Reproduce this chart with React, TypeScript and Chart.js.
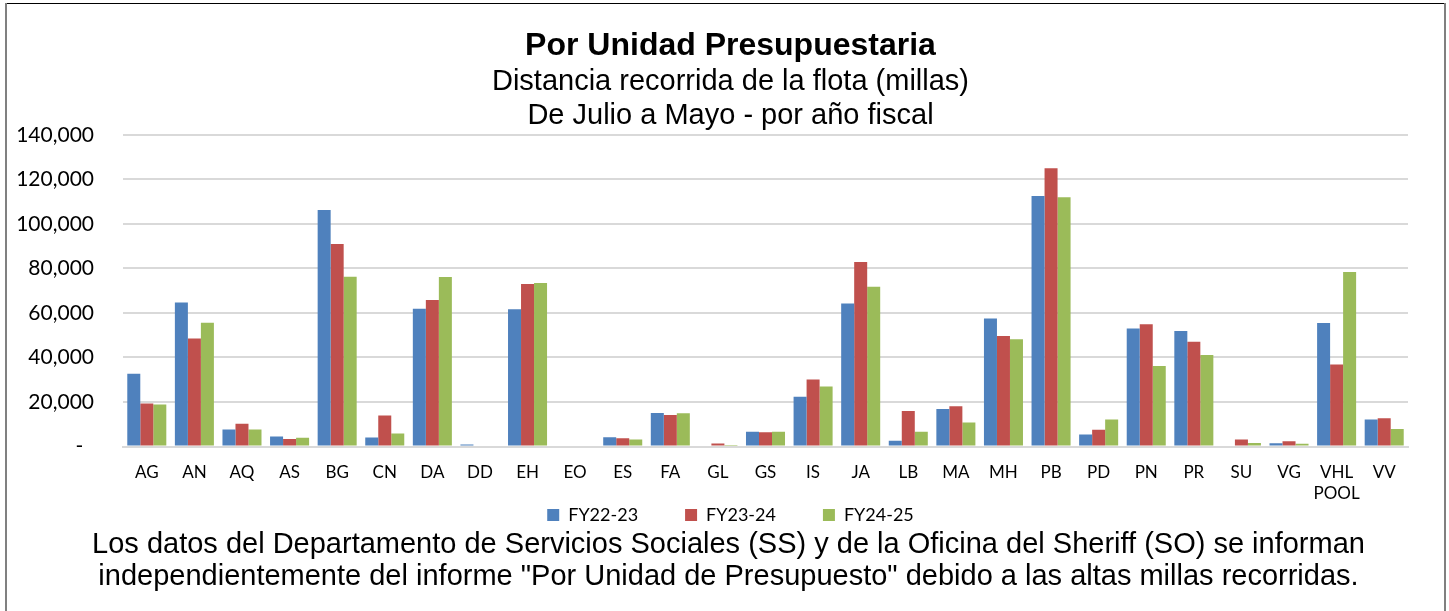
import React, { useEffect, useRef } from "react";
import { Chart, registerables } from "chart.js";

Chart.register(...registerables);

const categories: (string | string[])[] = [
  "AG", "AN", "AQ", "AS", "BG", "CN", "DA", "DD", "EH", "EO", "ES", "FA", "GL", "GS",
  "IS", "JA", "LB", "MA", "MH", "PB", "PD", "PN", "PR", "SU", "VG", ["VHL", "POOL"], "VV",
];

const fy2223 = [
  32700, 64700, 7600, 4500, 106200, 4000, 61900, 900, 61600, 0, 4200, 15000, 0, 6600,
  22400, 64200, 2600, 16800, 57500, 112500, 5400, 53000, 51900, 0, 1500, 55500, 12100,
];
const fy2324 = [
  19300, 48500, 10200, 3400, 91000, 13900, 65800, 500, 73000, 0, 3700, 14200, 1300, 6400,
  30100, 82900, 16000, 18100, 49600, 125000, 7500, 54900, 47000, 3100, 2400, 36800, 12700,
];
const fy2425 = [
  18900, 55600, 7600, 3900, 76200, 5800, 76100, 0, 73400, 0, 3100, 14900, 700, 6600,
  26900, 71800, 6600, 10800, 48200, 111900, 12100, 36200, 41100, 1600, 1200, 78400, 7900,
];

const seriesNames = ["FY22-23", "FY23-24", "FY24-25"];
const seriesColors = ["#4F81BD", "#C0504D", "#9BBB59"];

const titleText = "Por Unidad Presupuestaria";
const subtitleLines = ["Distancia recorrida de la flota (millas)", "De Julio a Mayo - por año fiscal"];
const footerLines = [
  'Los datos del Departamento de Servicios Sociales (SS) y de la Oficina del Sheriff (SO) se informan',
  'independientemente del informe "Por Unidad de Presupuesto" debido a las altas millas recorridas.',
];

const yMax = 140000;
const yStep = 20000;

const LEGEND_CENTER_Y = 515;
const LEGEND_FONT = 18;
const LEGEND_PAD = 47;

const legendMover = {
  id: "legendMover",
  afterLayout(chart: any) {
    const lg = chart.legend;
    if (!lg) return;
    lg.top = LEGEND_CENTER_Y - LEGEND_PAD - LEGEND_FONT / 2;
    lg.bottom = lg.top + 2 * LEGEND_PAD + LEGEND_FONT + 4;
    lg.height = lg.bottom - lg.top;
  },
};

export default function App() {
  const canvasRef = useRef<HTMLCanvasElement | null>(null);

  useEffect(() => {
    if (!canvasRef.current) return;
    const seriesData = [fy2223, fy2324, fy2425];
    const chart = new Chart(canvasRef.current, {
      type: "bar",
      data: {
        labels: categories,
        datasets: seriesNames.map((name, i) => ({
          label: name,
          data: seriesData[i],
          backgroundColor: seriesColors[i],
          borderWidth: 0,
          barPercentage: 1,
          categoryPercentage: 0.82,
          yAxisID: "y",
        })),
      },
      plugins: [legendMover],
      options: {
        animation: false,
        responsive: false,
        maintainAspectRatio: false,
        layout: { padding: { left: 12, right: 0, top: 0, bottom: 62 } },
        plugins: {
          tooltip: { enabled: false },
          title: {
            display: true,
            text: titleText,
            color: "#000",
            font: { family: "'Liberation Sans', Arial, sans-serif", size: 32, weight: "bold", lineHeight: 1.1 },
            padding: { top: 29, bottom: 0 },
          },
          subtitle: {
            display: true,
            text: subtitleLines,
            color: "#000",
            font: { family: "'Liberation Sans', Arial, sans-serif", size: 29, weight: "normal", lineHeight: 1.2 },
            padding: { top: 0, bottom: 1 },
          },
          legend: {
            display: true,
            position: "bottom",
            maxHeight: 30,
            labels: {
              color: "#000",
              boxWidth: 12,
              boxHeight: 12,
              padding: LEGEND_PAD,
              font: { family: "Lato, sans-serif", size: LEGEND_FONT },
            },
          },
        },
        scales: {
          x: {
            grid: { display: false, drawTicks: false },
            border: { display: true, color: "#D9D9D9", width: 2 },
            ticks: {
              color: "#000",
              padding: 15,
              maxRotation: 0,
              autoSkip: false,
              font: { family: "Lato, sans-serif", size: 17, lineHeight: 1.25 },
            },
          },
          y: {
            position: "left",
            min: 0,
            max: yMax,
            grid: { color: "#D9D9D9", lineWidth: 2, drawTicks: false },
            border: { display: false },
            ticks: {
              stepSize: yStep,
              color: "#000",
              padding: 29,
              font: { family: "Lato, sans-serif", size: 21 },
              callback: (v: any) => (Number(v) === 0 ? "-  " : Number(v).toLocaleString("en-US")),
            },
            afterFit: (scale: any) => {
              scale.width = 111;
            },
          },
          yRight: {
            type: "linear",
            position: "right",
            display: true,
            grid: { display: false, drawTicks: false },
            border: { display: false },
            ticks: { display: false },
            afterFit: (scale: any) => {
              scale.width = 41;
            },
          },
        },
      },
    });
    return () => chart.destroy();
  }, []);

  return (
    <div style={{ position: "absolute", left: 0, top: 0, width: 1449, height: 611, background: "#fff", overflow: "hidden" }}>
      <canvas ref={canvasRef} width={1449} height={611} style={{ position: "absolute", left: 0, top: 0, width: 1449, height: 611 }} />
      <div style={{ position: "absolute", left: 5, top: 3, width: 1441, height: 1, background: "#000" }} />
      <div style={{ position: "absolute", left: 5, top: 3, width: 2, height: 608, background: "#808080" }} />
      <div style={{ position: "absolute", left: 1444, top: 3, width: 2, height: 608, background: "#808080" }} />
      <div
        style={{
          position: "absolute",
          left: 8,
          width: 1441,
          top: 527,
          textAlign: "center",
          fontFamily: "'Liberation Sans', Arial, sans-serif",
          fontSize: 29,
          lineHeight: "32px",
          color: "#000",
          whiteSpace: "nowrap",
        }}
      >
        {footerLines.map((l, i) => (
          <div key={i}>{l}</div>
        ))}
      </div>
    </div>
  );
}
